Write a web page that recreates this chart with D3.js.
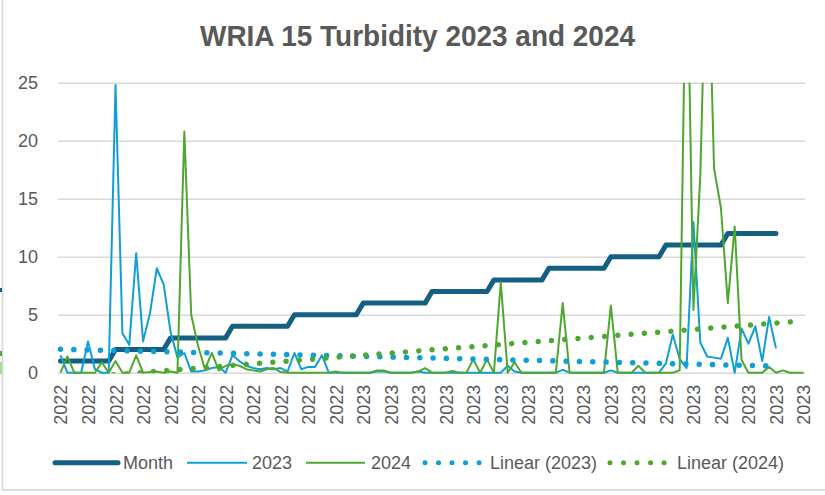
<!DOCTYPE html>
<html>
<head>
<meta charset="utf-8">
<script src="https://cdn.jsdelivr.net/npm/d3@7"></script>
<style>
  html, body { margin: 0; padding: 0; background: #ffffff; }
  svg { display: block; }
</style>
</head>
<body>
<svg id="chart" width="825" height="495"></svg>
<script>
// ---------------- data ----------------
const title = "WRIA 15 Turbidity 2023 and 2024";

// category index 0..108
const month = [
  1,1,1,1,1,1,1,1,
  2,2,2,2,2,2,2,2,
  3,3,3,3,3,3,3,3,3,
  4,4,4,4,4,4,4,4,4,
  5,5,5,5,5,5,5,5,5,5,
  6,6,6,6,6,6,6,6,6,6,
  7,7,7,7,7,7,7,7,7,
  8,8,8,8,8,8,8,8,
  9,9,9,9,9,9,9,9,9,
  10,10,10,10,10,10,10,10,
  11,11,11,11,11,11,11,11,11,
  12,12,12,12,12,12,12,12,
  null,null,null,null
];

const series2023 = [
  1.5,0,0,0,2.7,0.3,0,0,
  24.8,3.4,2.4,10.3,2.7,5.1,9.0,7.6,
  3.5,1.3,1.7,0.1,0.1,0.2,0.4,0.5,0,
  1.5,1.0,0.6,0.4,0.3,0.4,0.3,0.4,0.1,
  1.7,0.3,0.5,0.5,1.5,0,0,0,0,0,
  0,0,0.1,0.1,0,0,0,0,0.1,0,
  0,0,0,0,0,0,0,0,0,
  0,0,0.6,0.1,0,0,0,0,
  0,0,0.25,0,0,0,0,0,0,
  0.2,0,0,0,0,0,0,0,
  0.8,3.3,1.2,0.4,13.0,2.6,1.4,1.3,1.2,
  3.0,0,3.8,2.5,4.0,1.0,4.8,2.1,
  null,null,null,null
];

const series2024 = [
  0,1.4,0,0,0,0,0.9,0,
  1.0,0,0,1.5,0,0.05,0.1,0,
  0.1,0,20.8,5.0,2.3,0.3,1.7,0.2,0.6,
  0.7,0.6,0.3,0.2,0.1,0.3,0.4,0.05,0,
  0,0,0,0,0,0,0.1,0,0,0,
  0,0,0.2,0.2,0,0,0,0,0.1,0.4,
  0,0,0,0.15,0,0,1.15,0,1.15,
  0,7.8,0,0.9,0,0,0,0,
  0,0,6.0,0,0,0,0,0,0,
  5.8,0,0,0,0.6,0,0,0,
  0,0,0.2,40,5.4,17,40,17.6,14.2,
  6.0,12.6,1.1,0,0,0,0.5,0,
  0.2,0,0,0
];

// trendline end points: [index, value]
const trend2023 = [[0, 2.02], [104, 0.57]];
const trend2024 = [[0, -0.53], [108, 4.47]];

const yTicks = [0, 5, 10, 15, 20, 25];
// visible category labels (every 4th category)
const tickLabels = [
  "2022","2022","2022","2022","2022","2022","2022","2022","2022","2022","2022",
  "2023","2023","2023","2023","2023","2023","2023","2023","2023","2023","2023",
  "2023","2023","2023","2023","2023","2023"
];
const tickStep = 4;

const legendItems = [
  { name: "Month", kind: "month" },
  { name: "2023", kind: "s2023" },
  { name: "2024", kind: "s2024" },
  { name: "Linear (2023)", kind: "t2023" },
  { name: "Linear (2024)", kind: "t2024" }
];

// ---------------- styles ----------------
const C = {
  month: "#156082",
  s2023: "#0F9ED5",
  s2024: "#4EA72E",
  grid: "#D9D9D9",
  text: "#595959"
};
const FONT = "'Liberation Sans', Arial, sans-serif";

// ---------------- drawing ----------------
const svg = d3.select("#chart");
const W = 825, H = 495;
const plot = { left: 58, right: 805, top: 82.7, bottom: 372.7 };

svg.append("rect").attr("x", 0).attr("y", 0).attr("width", W).attr("height", H).attr("fill", "#fff");

// chart frame
svg.append("rect")
  .attr("x", 2.5).attr("y", -6).attr("width", 840).attr("height", 496)
  .attr("fill", "none").attr("stroke", "#D9D9D9").attr("stroke-width", 1.8);

// bits of neighbouring content at the left edge
svg.append("rect").attr("x", 0).attr("y", 288).attr("width", 2).attr("height", 4).attr("fill", C.month);
svg.append("rect").attr("x", 0).attr("y", 351).attr("width", 2).attr("height", 5).attr("fill", C.s2024);
svg.append("rect").attr("x", 0).attr("y", 362).attr("width", 2).attr("height", 12).attr("fill", "#A9DC9A");

const n = month.length;
const x = d3.scaleLinear().domain([0, n - 1]).range([60.5, 803.5]);
const y = d3.scaleLinear().domain([0, 25]).range([plot.bottom, plot.top]);

// title
const t = svg.append("text")
  .attr("x", 417.5).attr("y", 46)
  .attr("text-anchor", "middle")
  .attr("font-family", "'Liberation Sans Narrow', 'Liberation Sans', Arial, sans-serif")
  .attr("font-weight", "bold")
  .attr("font-size", 29)
  .attr("fill", C.text)
  .text(title);
t.attr("textLength", 435).attr("lengthAdjust", "spacingAndGlyphs");

// grid
const yAxis = d3.axisLeft(y).tickValues(yTicks).tickSize(-(plot.right - plot.left)).tickPadding(20);
const gy = svg.append("g").attr("transform", `translate(${plot.left},0)`).call(yAxis);
gy.select(".domain").remove();
gy.selectAll(".tick line").attr("stroke", C.grid).attr("stroke-width", 1.5);
gy.selectAll(".tick text")
  .attr("font-family", FONT).attr("font-size", 18).attr("fill", C.text)
  .attr("x", 38 - plot.left).attr("text-anchor", "end");

// x labels
const xTickVals = tickLabels.map((d, i) => i * tickStep);
const xAxis = d3.axisBottom(x).tickValues(xTickVals).tickSize(0)
  .tickFormat((d, i) => tickLabels[i]);
const gx = svg.append("g").attr("transform", `translate(0,${plot.bottom})`).call(xAxis);
gx.select(".domain").remove();
gx.selectAll(".tick text")
  .attr("font-family", FONT).attr("font-size", 18).attr("fill", C.text)
  .attr("transform", "rotate(-90)")
  .attr("text-anchor", "end")
  .attr("x", -12).attr("y", 0).attr("dy", "0.36em");

// clip
const defs = svg.append("defs");
defs.append("clipPath").attr("id", "clipS").append("rect")
  .attr("x", plot.left - 4).attr("y", plot.top).attr("width", plot.right - plot.left + 8)
  .attr("height", plot.bottom - plot.top + 3);
defs.append("clipPath").attr("id", "clipT").append("rect")
  .attr("x", plot.left - 4).attr("y", plot.top).attr("width", plot.right - plot.left + 8)
  .attr("height", plot.bottom - plot.top + 0.5);

const line = d3.line()
  .defined(d => d != null)
  .x((d, i) => x(i)).y(d => y(d));

const gs = svg.append("g").attr("clip-path", "url(#clipS)");
gs.append("path").datum(month)
  .attr("d", line).attr("fill", "none").attr("stroke", C.month)
  .attr("stroke-width", 5).attr("stroke-linejoin", "round").attr("stroke-linecap", "round");
gs.append("path").datum(series2023)
  .attr("d", line).attr("fill", "none").attr("stroke", C.s2023)
  .attr("stroke-width", 2).attr("stroke-linejoin", "round");
gs.append("path").datum(series2024)
  .attr("d", line).attr("fill", "none").attr("stroke", C.s2024)
  .attr("stroke-width", 2).attr("stroke-linejoin", "round");

const tline = d3.line().x(d => x(d[0])).y(d => y(d[1]));
const gt = svg.append("g").attr("clip-path", "url(#clipT)");
[[trend2023, C.s2023], [trend2024, C.s2024]].forEach(([data, col]) => {
  gt.append("path").datum(data)
    .attr("d", tline).attr("fill", "none").attr("stroke", col)
    .attr("stroke-width", 5.5).attr("stroke-linecap", "round")
    .attr("stroke-dasharray", "0.01 13.3");
});

// legend
const legendPos = [
  { x0: 55, x1: 118, tx: 123 },
  { x0: 187, x1: 247, tx: 252 },
  { x0: 306, x1: 365, tx: 371 },
  { x0: 425, x1: 481, tx: 490 },
  { x0: 610, x1: 667, tx: 677 }
];
const ly = 462.7;
const gl = svg.append("g");
legendItems.forEach((it, i) => {
  const p = legendPos[i];
  const seg = gl.append("line").attr("x1", p.x0).attr("x2", p.x1).attr("y1", ly).attr("y2", ly);
  if (it.kind === "month") {
    seg.attr("stroke", C.month).attr("stroke-width", 5).attr("stroke-linecap", "round");
  } else if (it.kind === "s2023" || it.kind === "s2024") {
    seg.attr("stroke", C[it.kind]).attr("stroke-width", 2);
  } else {
    const col = it.kind === "t2023" ? C.s2023 : C.s2024;
    seg.attr("stroke", col).attr("stroke-width", 5).attr("stroke-linecap", "round")
      .attr("stroke-dasharray", "0.01 13.5");
  }
  gl.append("text").attr("x", p.tx).attr("y", ly).attr("dy", "0.35em")
    .attr("font-family", FONT).attr("font-size", 18).attr("fill", C.text)
    .text(it.name);
});
</script>
</body>
</html>
